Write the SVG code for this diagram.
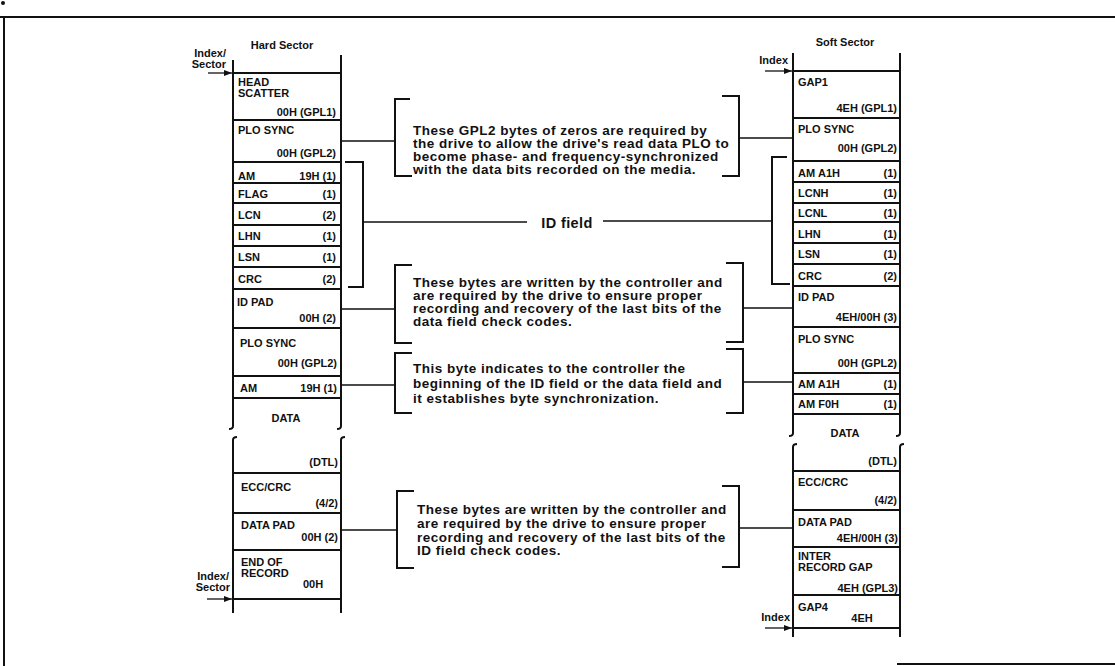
<svg xmlns="http://www.w3.org/2000/svg" width="1115" height="666" viewBox="0 0 1115 666">
<defs>
<marker id="ah" viewBox="0 0 8 6" refX="8" refY="3" markerWidth="8" markerHeight="6" orient="auto" markerUnits="userSpaceOnUse"><path d="M0,0 L8,3 L0,6 z" fill="#111"/></marker>
</defs>
<style>
.fr{stroke:#111;stroke-width:2;fill:none}
.col{stroke:#111;stroke-width:2;fill:none}
.sep{stroke:#111;stroke-width:1.8;fill:none}
.br{stroke:#111;stroke-width:2;fill:none}
.cn{stroke:#111;stroke-width:1.6;fill:none}
.ar{stroke:#111;stroke-width:1.3;fill:none}
text{font-family:"Liberation Sans",Arial,sans-serif;font-weight:bold;fill:#111}
.t{font-size:11px}
.r{text-anchor:end}
.c{text-anchor:middle}
.m{font-size:13.5px;letter-spacing:0.5px}
.idf{font-size:14.5px;letter-spacing:0.4px}
</style>
<rect width="1115" height="666" fill="#fff"/>
<g id="frame">
<circle cx="3" cy="3" r="2" fill="#111"/>
<path class="fr" d="M0,17 H1115 M4,17 V666 M897,664 H1115"/>
</g>

<g id="hard-sector-header">
<text class="t c" x="282" y="49">Hard Sector</text>
<text class="t r" x="226" y="57">Index/</text>
<text class="t r" x="226" y="68">Sector</text>
<text class="t r" x="229" y="580">Index/</text>
<text class="t r" x="230" y="591">Sector</text>
</g>

<g id="hard-column">
<path class="col" d="M233,60 V426 q0,3 -4,3 M237,437 q-4,0 -4,3 V613 M341,55 V426 q0,3 -4,3 M345,437 q-4,0 -4,3 V613"/>
<path class="sep" d="M233,73 H341 M233,120 H341 M233,162 H341 M233,183 H341 M233,203 H341 M233,225 H341 M233,246 H341 M233,267 H341 M233,289 H341 M233,328 H341 M233,376 H341 M233,398 H341 M233,473 H341 M233,513 H341 M233,550 H341 M233,599 H341"/>
</g>
<g id="h-head-scatter"><text class="t" x="238" y="86">HEAD</text><text class="t" x="238" y="97">SCATTER</text><text class="t r" x="336" y="116">00H (GPL1)</text></g>
<g id="h-plo-sync-1"><text class="t" x="238" y="134">PLO SYNC</text><text class="t r" x="336" y="157">00H (GPL2)</text></g>
<g id="h-am-1"><text class="t" x="238" y="180">AM</text><text class="t r" x="336" y="180">19H (1)</text></g>
<g id="h-flag"><text class="t" x="238" y="198">FLAG</text><text class="t r" x="336" y="198">(1)</text></g>
<g id="h-lcn"><text class="t" x="238" y="219">LCN</text><text class="t r" x="336" y="219">(2)</text></g>
<g id="h-lhn"><text class="t" x="238" y="240">LHN</text><text class="t r" x="336" y="240">(1)</text></g>
<g id="h-lsn"><text class="t" x="238" y="261">LSN</text><text class="t r" x="336" y="261">(1)</text></g>
<g id="h-crc"><text class="t" x="238" y="283">CRC</text><text class="t r" x="336" y="283">(2)</text></g>
<g id="h-id-pad"><text class="t" x="237" y="306">ID PAD</text><text class="t r" x="336" y="322">00H  (2)</text></g>
<g id="h-plo-sync-2"><text class="t" x="240" y="347">PLO SYNC</text><text class="t r" x="337" y="367">00H (GPL2)</text></g>
<g id="h-am-2"><text class="t" x="240" y="392">AM</text><text class="t r" x="337" y="392">19H (1)</text></g>
<g id="h-data"><text class="t c" x="286" y="422">DATA</text><text class="t r" x="338" y="466">(DTL)</text></g>
<g id="h-ecc"><text class="t" x="241" y="491">ECC/CRC</text><text class="t r" x="338" y="507">(4/2)</text></g>
<g id="h-data-pad"><text class="t" x="241" y="529">DATA PAD</text><text class="t r" x="338" y="541">00H (2)</text></g>
<g id="h-end"><text class="t" x="241" y="566">END OF</text><text class="t" x="241" y="577">RECORD</text><text class="t" x="303" y="588">00H</text></g>

<g id="soft-sector-header">
<text class="t c" x="845" y="46">Soft Sector</text>
<text class="t r" x="788" y="64">Index</text>
<text class="t r" x="790" y="621">Index</text>
</g>

<g id="soft-column">
<path class="col" d="M793,53 V433 q0,3 -4,3 M797,444 q-4,0 -4,3 V637 M900,53 V433 q0,3 -4,3 M904,444 q-4,0 -4,3 V637"/>
<path class="sep" d="M793,71 H900 M793,118 H900 M793,161 H900 M793,182 H900 M793,203 H900 M793,222 H900 M793,243 H900 M793,264 H900 M793,286 H900 M793,327 H900 M793,373 H900 M793,394 H900 M793,414 H900 M793,471 H900 M793,510 H900 M793,547 H900 M793,595 H900 M793,628 H900"/>
</g>
<g id="s-gap1"><text class="t" x="798" y="86">GAP1</text><text class="t r" x="897" y="112">4EH (GPL1)</text></g>
<g id="s-plo-sync-1"><text class="t" x="798" y="133">PLO SYNC</text><text class="t r" x="897" y="152">00H (GPL2)</text></g>
<g id="s-am-1"><text class="t" x="798" y="177">AM<tspan x="818">A1H</tspan></text><text class="t r" x="897" y="177">(1)</text></g>
<g id="s-lcnh"><text class="t" x="798" y="197">LCNH</text><text class="t r" x="897" y="197">(1)</text></g>
<g id="s-lcnl"><text class="t" x="798" y="217">LCNL</text><text class="t r" x="897" y="217">(1)</text></g>
<g id="s-lhn"><text class="t" x="798" y="238">LHN</text><text class="t r" x="897" y="238">(1)</text></g>
<g id="s-lsn"><text class="t" x="798" y="258">LSN</text><text class="t r" x="897" y="258">(1)</text></g>
<g id="s-crc"><text class="t" x="798" y="280">CRC</text><text class="t r" x="897" y="280">(2)</text></g>
<g id="s-id-pad"><text class="t" x="798" y="301">ID PAD</text><text class="t r" x="897" y="321">4EH/00H (3)</text></g>
<g id="s-plo-sync-2"><text class="t" x="798" y="343">PLO SYNC</text><text class="t r" x="897" y="367">00H (GPL2)</text></g>
<g id="s-am-a1h"><text class="t" x="798" y="388">AM A1H</text><text class="t r" x="897" y="388">(1)</text></g>
<g id="s-am-f0h"><text class="t" x="798" y="408">AM F0H</text><text class="t r" x="897" y="408">(1)</text></g>
<g id="s-data"><text class="t c" x="845" y="437">DATA</text><text class="t r" x="897" y="465">(DTL)</text></g>
<g id="s-ecc"><text class="t" x="798" y="486">ECC/CRC</text><text class="t r" x="897" y="504">(4/2)</text></g>
<g id="s-data-pad"><text class="t" x="798" y="526">DATA PAD</text><text class="t r" x="898" y="542">4EH/00H (3)</text></g>
<g id="s-irg"><text class="t" x="798" y="560">INTER</text><text class="t" x="798" y="571">RECORD GAP</text><text class="t r" x="898" y="592">4EH (GPL3)</text></g>
<g id="s-gap4"><text class="t" x="798" y="611">GAP4</text><text class="t c" x="862" y="622">4EH</text></g>

<g id="note-plo">
<path class="br" d="M410,99 H395 V176 H412 M722,96 H739 V176 H722"/>
<text class="m" x="413" y="135">These GPL2 bytes of zeros are required by</text>
<text class="m" x="413" y="148">the drive to allow the drive's read data PLO to</text>
<text class="m" x="413" y="161">become phase- and frequency-synchronized</text>
<text class="m" x="413" y="174">with the data bits recorded on the media.</text>
</g>
<g id="note-idfield"><text class="idf c" x="567" y="228">ID field</text></g>
<g id="note-idpad">
<path class="br" d="M412,265 H395 V343 H412 M726,263 H743 V342 H726"/>
<text class="m" x="413" y="287">These bytes are written by the controller and</text>
<text class="m" x="413" y="300">are required by the drive to ensure proper</text>
<text class="m" x="413" y="313">recording and recovery of the last bits of the</text>
<text class="m" x="413" y="326">data field check codes.</text>
</g>
<g id="note-am">
<path class="br" d="M412,353 H395 V413 H412 M726,349 H743 V413 H726"/>
<text class="m" x="413" y="373">This byte indicates to the controller the</text>
<text class="m" x="413" y="388">beginning of the ID field or the data field and</text>
<text class="m" x="413" y="403">it establishes byte synchronization.</text>
</g>
<g id="note-datapad">
<path class="br" d="M414,491 H397 V568 H414 M722,486 H739 V567 H722"/>
<text class="m" x="417" y="514">These bytes are written by the controller and</text>
<text class="m" x="417" y="528">are required by the drive to ensure proper</text>
<text class="m" x="417" y="542">recording and recovery of the last bits of the</text>
<text class="m" x="417" y="555">ID field check codes.</text>
</g>

<g id="connectors">
<path class="cn" d="M341,141 H395 M739,138 H793"/>
<path class="br" d="M345,162 H363 V287 H348 M787,157 H772 V284 H790"/>
<path class="cn" d="M363,222 H527 M603,221 H772"/>
<path class="cn" d="M341,309 H395 M743,308 H793"/>
<path class="cn" d="M341,385 H395 M743,382 H793"/>
<path class="cn" d="M342,530 H397 M739,528 H793"/>
<path class="ar" marker-end="url(#ah)" d="M208,73 H232"/>
<path class="ar" marker-end="url(#ah)" d="M207,599 H232"/>
<path class="ar" marker-end="url(#ah)" d="M765,71 H792"/>
<path class="ar" marker-end="url(#ah)" d="M765,628 H792"/>
</g>
</svg>
